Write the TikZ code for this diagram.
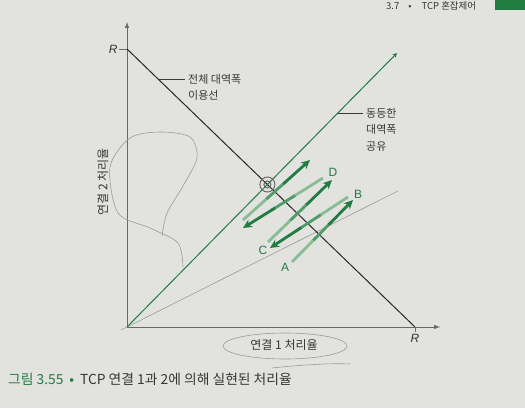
\documentclass[tikz,border=0pt]{standalone}
\usepackage{fontspec}
\setmainfont{Noto Sans CJK KR}
\newfontfamily\latinfont{Liberation Sans}
\usetikzlibrary{calc,arrows.meta}

\definecolor{pagegray}{RGB}{226,226,223}
\definecolor{bookgreen}{RGB}{34,124,66}
\definecolor{midgreen}{RGB}{80,155,105}
\definecolor{palegreen}{RGB}{135,188,148}
\definecolor{inkgray}{RGB}{55,55,55}
\definecolor{axisgray}{RGB}{105,105,105}
\definecolor{linegray}{RGB}{40,40,40}
\definecolor{pencil}{RGB}{155,155,155}

\begin{document}
\begin{tikzpicture}[x=1pt, y=1pt,
  axisline/.style={draw=axisgray, line width=1pt, -latex},
  flowtail/.style={line width=2.8pt, draw=palegreen},
  flowmid/.style={line width=2.8pt, draw=midgreen},
  flowarrow/.style={line width=2.8pt, draw=bookgreen, -{Stealth[length=9pt,width=8.5pt]}},
  lbl/.style={font=\fontsize{11}{16.5}\selectfont, text=inkgray, align=left, inner sep=0pt},
  axlabel/.style={font=\fontsize{12}{12}\selectfont, text=inkgray, inner sep=0pt},
  ptlabel/.style={font=\fontsize{12}{12}\latinfont, text=bookgreen, inner sep=0pt},
  rlabel/.style={font=\fontsize{12}{12}\latinfont\itshape, text=inkgray, inner sep=0pt},
  pencilline/.style={draw=pencil, line width=0.6pt}]

  % Page
  \fill[pagegray] (0,0) rectangle (525,408);
  \useasboundingbox (0,0) rectangle (525,408);
  \clip (0,0) rectangle (525,408);

  % Running head
  \node[anchor=base west, font=\fontsize{9.5}{9.5}\selectfont, text=inkgray, inner sep=0pt] (head) at (386,398.5) {3.7\hspace{9pt}•\hspace{10pt}TCP 혼잡제어};
  \fill[bookgreen] (495,398) rectangle (525,408);

  % Points of the plot
  \coordinate (O) at (127,81);
  \coordinate (ytop) at (127,386);
  \coordinate (xend) at (440,81);
  \coordinate (Ry) at (127,359);
  \coordinate (Rx) at (415,81);
  \coordinate (eqend) at (397,355);

  % Axes
  \draw[axisline] (O) -- (ytop);
  \draw[axisline] (O) -- (xend);
  \draw[axisgray, line width=0.8pt] (Ry) -- ++(-8,0) node[rlabel, left=1pt] (ryl) {R};
  \draw[axisgray, line width=0.8pt] (Rx) -- ++(0,-5) node[rlabel, below=2pt] (rxl) {R};

  % Pencil marks left on the page
  \draw[pencilline] (121,78) -- (398,217);
  \draw[pencilline] plot[smooth] coordinates {(183,141) (178,165) (150,180) (118,195) (110,241) (130,270) (160,276) (190,271) (197,250) (183,222) (167,195) (162,172)};

  % Full bandwidth utilization line
  \draw[linegray, line width=1pt] (Ry) -- (Rx);
  % Equal bandwidth share line
  \draw[bookgreen, line width=1pt, -stealth] (O) -- (eqend);

  % Meeting point, circled in pencil
  \coordinate (meet) at (intersection of O--eqend and Ry--Rx);
  \draw[draw=axisgray, line width=1pt] (meet) circle (7.5pt) (meet) circle (3.5pt);

  % Labels with leaders
  \node[lbl, anchor=west] (util) at (188,320.5) {전체 대역폭\\이용선};
  \coordinate (utilfoot) at ($(Ry)!0.108!(Rx)$);
  \draw[inkgray, line width=0.6pt] (utilfoot) -- ([xshift=-3pt]utilfoot -| util.west);
  \node[lbl, anchor=west] (share) at (366,278.5) {동등한\\대역폭\\공유};
  \coordinate (sharefoot) at ($(O)!0.781!(eqend)$);
  \draw[inkgray, line width=0.6pt] (sharefoot) -- ([xshift=-3pt]sharefoot -| share.west);

  % Axis names
  \node[axlabel, rotate=90] (ylab) at (103,226) {연결 2 처리율};
  \node[axlabel] (xlab) at (284,63) {연결 1 처리율};
  \draw[pencilline] (285,62) ellipse (62pt and 13pt);
  \draw[pencilline] (272,40) .. controls (300,43) and (330,45) .. (350,44);

  % Path of the two rates
  \coordinate (a) at (292,146);  \coordinate (b) at (353,208);
  \coordinate (b2) at (348,211); \coordinate (c) at (270,160);
  \coordinate (c2) at (268,166); \coordinate (d) at (332,228);
  \coordinate (d2) at (323,230); \coordinate (e) at (243,180);
  \coordinate (e2) at (243,188); \coordinate (f) at (310,248);
  \foreach \s/\e in {a/b, b2/c, c2/d, d2/e, e2/f} {
    \draw[flowtail] (\s) -- ($(\s)!0.4!(\e)$);
    \draw[flowmid] ($(\s)!0.35!(\e)$) -- ($(\s)!0.65!(\e)$);
    \draw[flowarrow] ($(\s)!0.6!(\e)$) -- (\e);
  }
  \node[ptlabel] (labA) at (285,141) {A};
  \node[ptlabel] (labB) at (358,214) {B};
  \node[ptlabel] (labC) at (263,158) {C};
  \node[ptlabel] (labD) at (333,236) {D};

  % Caption
  \node[anchor=base west, font=\fontsize{13.8}{13.8}\selectfont, text=inkgray, inner sep=0pt] (cap) at (8,24) {\textcolor{bookgreen}{그림 3.55\hspace{6pt}•}\hspace{6pt}TCP 연결 1과 2에 의해 실현된 처리율};
\end{tikzpicture}
\end{document}
